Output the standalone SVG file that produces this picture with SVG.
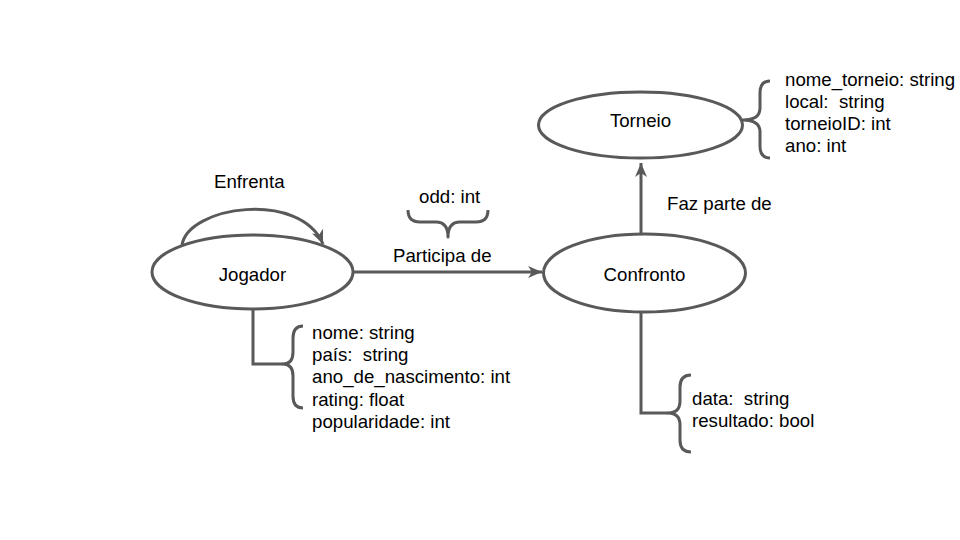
<svg xmlns="http://www.w3.org/2000/svg" width="960" height="540" viewBox="0 0 960 540">
<defs>
<style>
.node{fill:#ffffff;stroke:#595959;stroke-width:3}
.line{fill:none;stroke:#595959;stroke-width:3}
.brace{fill:none;stroke:#595959;stroke-width:3;stroke-linejoin:round}
text{font-family:"Liberation Sans",Arial,sans-serif;font-size:18.67px;fill:#000000;white-space:pre}
.c{text-anchor:middle}
</style>
<marker id="arr" markerUnits="userSpaceOnUse" markerWidth="16" markerHeight="14" refX="14" refY="7" orient="auto">
<path d="M0,1 L14,7 L0,13 L4,7 z" fill="#595959"/>
</marker>
</defs>
<rect width="960" height="540" fill="#ffffff"/>
<g id="connectors">
<path class="line" d="M182,245 C188,206 300,190 323,244" marker-end="url(#arr)"/>
<line class="line" x1="353" y1="272" x2="542" y2="272" marker-end="url(#arr)"/>
<line class="line" x1="641" y1="234" x2="641" y2="163" marker-end="url(#arr)"/>
<polyline class="line" points="253,309 253,364 283,364"/>
<polyline class="line" points="641,312 641,413 668,413"/>
</g>
<g id="jogador">
<ellipse class="node" cx="252.5" cy="272" rx="100.5" ry="37"/>
<text class="c" x="252.5" y="281">Jogador</text>
</g>
<g id="confronto">
<ellipse class="node" cx="644.5" cy="273" rx="101" ry="39"/>
<text class="c" x="644.5" y="281">Confronto</text>
</g>
<g id="torneio">
<ellipse class="node" cx="640.5" cy="125" rx="102" ry="33"/>
<text class="c" x="640.5" y="127">Torneio</text>
</g>
<g id="label-enfrenta">
<text x="214" y="188">Enfrenta</text>
</g>
<g id="label-participa">
<text x="393" y="262">Participa de</text>
<path class="brace" d="M408,210 Q408,222 420,222 L436,222 Q448,222 448,237 Q448,222 460,222 L476,222 Q488,222 488,210"/>
<text x="419" y="203">odd: int</text>
</g>
<g id="label-faz-parte">
<text x="667" y="210">Faz parte de</text>
</g>
<g id="jogador-attrs">
<path class="brace" d="M303,326 Q293,326 293,338 L293,352 Q293,364 283,364 Q293,364 293,376 L293,396 Q293,408 303,408"/>
<text x="312" y="339">nome: string</text>
<text x="312" y="361" xml:space="preserve">país:  string</text>
<text x="312" y="383">ano_de_nascimento: int</text>
<text x="312" y="406">rating: float</text>
<text x="312" y="428">popularidade: int</text>
</g>
<g id="torneio-attrs">
<path class="brace" d="M770,81 Q760,81 760,93 L760,108 Q760,120 743,120 Q760,120 760,132 L760,146 Q760,158 770,158"/>
<text x="785" y="86">nome_torneio: string</text>
<text x="785" y="108" xml:space="preserve">local:  string</text>
<text x="785" y="130">torneioID: int</text>
<text x="785" y="152">ano: int</text>
</g>
<g id="confronto-attrs">
<path class="brace" d="M691,375 Q680,375 680,387 L680,401 Q680,413 668,413 Q680,413 680,425 L680,440 Q680,452 691,452"/>
<text x="692" y="405" xml:space="preserve">data:  string</text>
<text x="692" y="427">resultado: bool</text>
</g>
</svg>
